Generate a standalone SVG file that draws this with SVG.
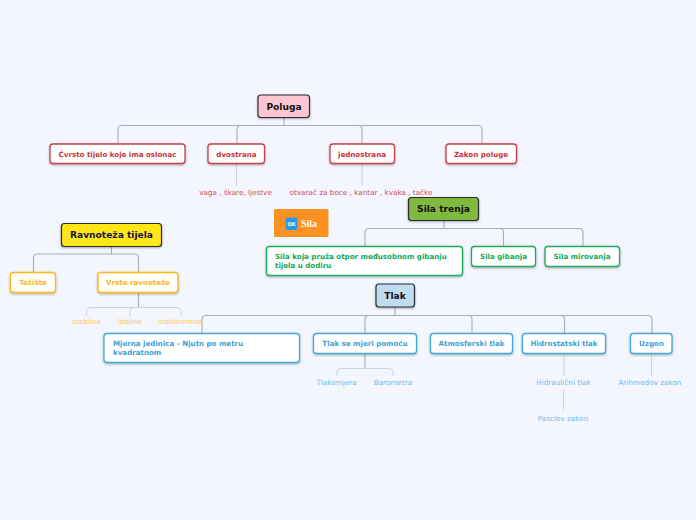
<svg xmlns="http://www.w3.org/2000/svg" width="696" height="520" viewBox="0 0 696 520">
<style>
text{font-family:"DejaVu Sans",sans-serif}
.m{font-size:9.1px;font-weight:700;fill:#111;text-anchor:middle}
.s{font-size:7.1px;font-weight:700;text-anchor:middle}
.sl{font-size:7.1px;font-weight:700}
.l{font-size:7.25px;text-anchor:middle}
.mb{stroke:#2b2b33;stroke-width:1.2}
.r{fill:#fff;stroke:#c8404a;stroke-width:1.3}
.rt{fill:#c8323c}.rl{fill:#d0505a}
.y{fill:#fff;stroke:#fdb813;stroke-width:1.3}
.yt{fill:#fdb813}.yl{fill:#fcc75c}
.g{fill:#fff;stroke:#1aac60;stroke-width:1.3}
.gt{fill:#0fa958}
.b{fill:#fff;stroke:#45a8dc;stroke-width:1.3}
.bt{fill:#3aa3d9}.bl{fill:#6dbbe6}
.c{fill:none;stroke:#a9acb4;stroke-width:1.1}
.c2{fill:none;stroke:#cfd2d9;stroke-width:1}
</style>
<defs><filter id="sh" x="-10%" y="-20%" width="120%" height="150%"><feDropShadow dx="0" dy="1" stdDeviation="0.8" flood-color="#333" flood-opacity="0.4"/></filter></defs>
<rect width="696" height="520" fill="#f3f6fe"/>
<g id="connectors">
<path class="c" d="M284 118V125.500M118 143V129.500Q118 125.500 122 125.500H478Q482 125.500 482 129.500V143M237 143V129.500Q237 125.500 241 125.500M362 143V129.500Q362 125.500 358 125.500"/>
<path class="c2" d="M236.500 164V186M362 164V186"/>
<path class="c" d="M111.500 247V254M33.500 272V258Q33.500 254 37.500 254H134.500Q138.500 254 138.500 258V272M138.500 293V307.500"/>
<path class="c2" d="M86.500 316V311.500Q86.500 307.500 90.500 307.500H177Q181 307.500 181 311.500V316M130 316V311.500Q130 307.500 134 307.500"/>
<path class="c" d="M444 221V228.500M365 246V232.500Q365 228.500 369 228.500H579Q583 228.500 583 232.500V246M503.500 246V232.500Q503.500 228.500 499.500 228.500"/>
<path class="c" d="M395 307V315.500M202 333V319.500Q202 315.500 206 315.500H648Q652 315.500 652 319.500V333M365 333V319.500Q365 315.500 369 315.500M472 333V319.500Q472 315.500 468 315.500M564.500 333V319.500Q564.500 315.500 560.500 315.500"/>
<path class="c" d="M365 354V368.500"/>
<path class="c2" d="M337 376V372.500Q337 368.500 341 368.500H389Q393 368.500 393 372.500V376M564 354V376M651.500 354V376M563.500 390V411"/>
</g>
<g id="poluga"><rect class="mb" x="258" y="95" width="51.500" height="22.500" rx="3" fill="#fdc4d2" filter="url(#sh)"/><text class="m" x="284" y="110">Poluga</text></g>
<g id="cvrsto"><rect class="r" x="50" y="144" width="135" height="19.500" rx="3" filter="url(#sh)"/><text class="s rt" x="117.500" y="157">Čvrsto tijelo koje ima oslonac</text></g>
<g id="dvostrana"><rect class="r" x="208" y="144" width="56.500" height="19.500" rx="3" filter="url(#sh)"/><text class="s rt" x="236.500" y="157">dvostrana</text></g>
<g id="jednostrana"><rect class="r" x="330" y="144" width="64.500" height="19.500" rx="3" filter="url(#sh)"/><text class="s rt" x="362" y="157">jednostrana</text></g>
<g id="zakon"><rect class="r" x="446" y="144" width="70.500" height="19.500" rx="3" filter="url(#sh)"/><text class="s rt" x="481" y="157">Zakon poluge</text></g>
<g id="vaga"><text class="l rl" x="235.500" y="195">vaga , škare, ljestve</text></g>
<g id="otvarac"><text class="l rl" x="361" y="195">otvarač za boce , kantar , kvaka , tačke</text></g>
<g id="sila"><rect x="274" y="209" width="54.500" height="28" rx="1" fill="#fa9120"/><rect x="285.500" y="217.500" width="12" height="12.500" rx="2" fill="#2b9ae6"/><text x="291.500" y="225.500" font-size="5" font-weight="700" fill="#fff" text-anchor="middle">OK</text><text x="301" y="227" style="font-family:'Liberation Serif',serif" font-size="10" font-weight="700" fill="#fff">Sila</text></g>
<g id="ravnoteza"><rect class="mb" x="61.500" y="223.500" width="100" height="23" rx="3" fill="#ffe614" filter="url(#sh)"/><text class="m" x="111.500" y="238" style="fill:#14143c">Ravnoteža tijela</text></g>
<g id="teziste"><rect class="y" x="10.500" y="272.500" width="45" height="20" rx="3" filter="url(#sh)"/><text class="s yt" x="33" y="285">Težište</text></g>
<g id="vrste"><rect class="y" x="98" y="272.500" width="80" height="20" rx="3" filter="url(#sh)"/><text class="s yt" x="138" y="285">Vrste ravnoteže</text></g>
<g id="stabilna"><text class="l yl" x="86.500" y="324">stabilna</text></g>
<g id="labilna"><text class="l yl" x="129.500" y="324">labilna</text></g>
<g id="indiferentna"><text class="l yl" x="180" y="324">indiferentna</text></g>
<g id="silatrenja"><rect class="mb" x="408.500" y="197.500" width="70" height="23" rx="3" fill="#7fba3c" filter="url(#sh)"/><text class="m" x="443.500" y="212">Sila trenja</text></g>
<g id="silakoja"><rect class="g" x="266.500" y="246.500" width="196" height="29" rx="3" filter="url(#sh)"/><text class="sl gt" x="275" y="259">Sila koja pruža otpor međusobnom gibanju</text><text class="sl gt" x="275" y="268">tijela u dodiru</text></g>
<g id="silagibanja"><rect class="g" x="471.500" y="246.500" width="64" height="20" rx="3" filter="url(#sh)"/><text class="s gt" x="503.500" y="259">Sila gibanja</text></g>
<g id="silamirovanja"><rect class="g" x="545" y="246.500" width="74.500" height="20" rx="3" filter="url(#sh)"/><text class="s gt" x="582" y="259">Sila mirovanja</text></g>
<g id="tlak"><rect class="mb" x="376" y="284" width="38.500" height="23" rx="3" fill="#c0dcf0" filter="url(#sh)"/><text class="m" x="395" y="299">Tlak</text></g>
<g id="mjerna"><rect class="b" x="104" y="333.500" width="195.500" height="29" rx="3" filter="url(#sh)"/><text class="sl bt" x="113" y="346">Mjerna jedinica - Njutn po metru</text><text class="sl bt" x="113" y="355">kvadratnom</text></g>
<g id="tlaksemjeri"><rect class="b" x="313.500" y="333.500" width="103" height="20" rx="3" filter="url(#sh)"/><text class="s bt" x="365" y="346">Tlak se mjeri pomoću</text></g>
<g id="atmosferski"><rect class="b" x="430.500" y="333.500" width="82" height="20" rx="3" filter="url(#sh)"/><text class="s bt" x="471.500" y="346">Atmosferski tlak</text></g>
<g id="hidrostatski"><rect class="b" x="522.500" y="333.500" width="83" height="20" rx="3" filter="url(#sh)"/><text class="s bt" x="564" y="346">Hidrostatski tlak</text></g>
<g id="uzgon"><rect class="b" x="630.500" y="333.500" width="41.500" height="20" rx="3" filter="url(#sh)"/><text class="s bt" x="651.500" y="346">Uzgon</text></g>
<g id="tlakomjera"><text class="l bl" x="336.500" y="385">Tlakomjera</text></g>
<g id="barometra"><text class="l bl" x="393" y="385" font-style="italic">Barometra</text></g>
<g id="hidraulicni"><text class="l bl" x="563.500" y="385">Hidraulični tlak</text></g>
<g id="pascalov"><text class="l bl" x="563" y="421">Pasclov zakon</text></g>
<g id="arihmedov"><text class="l bl" x="650" y="385">Arihmedov zakon</text></g>
</svg>
